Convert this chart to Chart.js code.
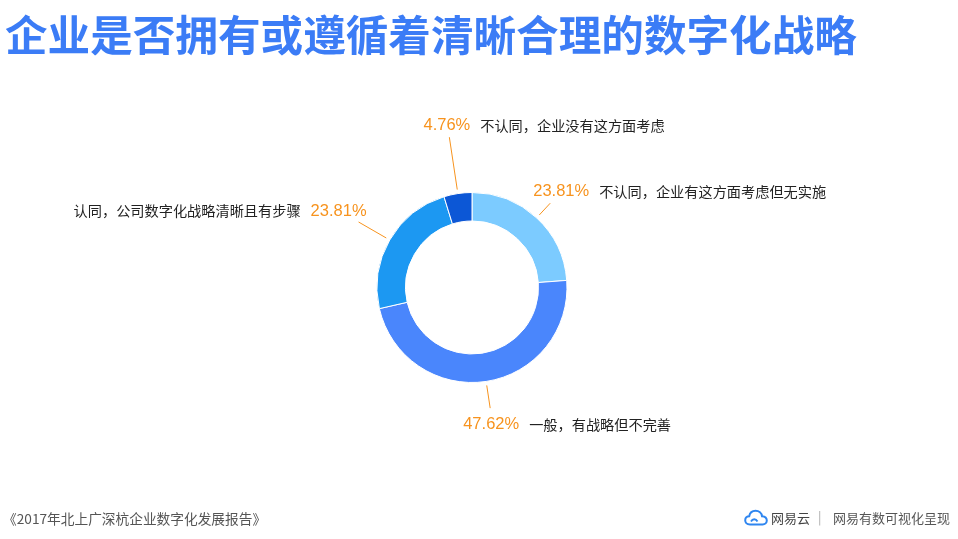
<!DOCTYPE html>
<html>
<head>
<meta charset="utf-8">
<script src="https://cdn.jsdelivr.net/npm/chart.js@4/dist/chart.umd.min.js"></script>
<style>
  html, body { margin:0; padding:0; background:#fff; }
  #wrap { position:relative; width:958px; height:539px; overflow:hidden; background:#fff; }
  #c { position:absolute; left:0; top:0; }
  .title { position:absolute; left:5px; top:11px; font-family:"Noto Sans CJK SC","Noto Sans",sans-serif; font-weight:700; font-size:42.6px; line-height:43px; color:#3b7cf6; white-space:nowrap; }
  .foot { position:absolute; font-family:"Noto Sans CJK SC","Noto Sans",sans-serif; white-space:nowrap; line-height:20px; }
</style>
</head>
<body>
<div id="wrap">
  <canvas id="c" width="958" height="539"></canvas>
  <div class="title">企业是否拥有或遵循着清晰合理的数字化战略</div>
  <div class="foot" style="left:3px; top:508px; font-size:13.7px; color:#555;">《2017年北上广深杭企业数字化发展报告》</div>
  <svg style="position:absolute; left:744px; top:509px;" width="24" height="18" viewBox="0 0 24 18">
    <path d="M6 15.5 C2.5 15.5 1.2 13 1.2 11.2 C1.2 8.8 3 7.2 5.2 7.2 C5.8 4 8.4 1.8 11.6 1.8 C15 1.8 17.6 4.2 18 7.2 C20.8 7.4 22.8 9.2 22.8 11.6 C22.8 13.8 21 15.5 18.6 15.5 Z" fill="none" stroke="#2f86f0" stroke-width="2"/>
    <path d="M7 12.5 C8.5 9.5 12 9.5 13.5 12.5" fill="none" stroke="#2f86f0" stroke-width="1.8"/>
  </svg>
  <div class="foot" style="left:771px; top:508px; font-size:13px; color:#444;">网易云</div>
  <div class="foot" style="left:818px; top:507px; font-size:13px; color:#aaa;">|</div>
  <div class="foot" style="left:833px; top:508px; font-size:13px; color:#555;">网易有数可视化呈现</div>
</div>
<script>
// ---- data ----
const categories = [
  '不认同，企业有这方面考虑但无实施',
  '一般，有战略但不完善',
  '认同，公司数字化战略清晰且有步骤',
  '不认同，企业没有这方面考虑'
];
const percentValues = [23.81, 47.62, 23.81, 4.76];
const sliceColors = ['#7ccbff', '#4a86fc', '#1c98f2', '#0c57d6'];

// ---- label layout (style only) ----
const labelLayout = [
  { len: 20, align: 'left',   dx: -17,  dy: -12, side: 'right' },
  { len: 27, align: 'center', dx: 1,    dy: 16,  side: 'right' },
  { len: 36, align: 'right',  dx: 8,    dy: -11, side: 'left'  },
  { len: 57, align: 'center', dx: -2.5, dy: -12, side: 'right' }
];

const leaderLabels = {
  id: 'leaderLabels',
  afterDatasetsDraw(chart) {
    const ctx = chart.ctx;
    const meta = chart.getDatasetMeta(0);
    const ds = chart.data.datasets[0];
    meta.data.forEach((arc, i) => {
      const p = arc.getProps(['x', 'y', 'startAngle', 'endAngle', 'outerRadius'], true);
      const mid = (p.startAngle + p.endAngle) / 2;
      const cfg = labelLayout[i];
      const c = Math.cos(mid), s = Math.sin(mid);
      const r0 = p.outerRadius + 4;
      const r1 = p.outerRadius + cfg.len;
      const sx = p.x + c * r0, sy = p.y + s * r0;
      const ex = p.x + c * r1, ey = p.y + s * r1;
      ctx.save();
      ctx.strokeStyle = '#f7931e';
      ctx.lineWidth = 1;
      ctx.beginPath();
      ctx.moveTo(sx, sy);
      ctx.lineTo(ex, ey);
      ctx.stroke();

      const pct = ds.data[i].toFixed(2) + '%';
      ctx.font = '16.5px "Liberation Sans", Arial, sans-serif';
      const pw = ctx.measureText(pct).width;
      const ax = ex + cfg.dx;
      const ay = ey + cfg.dy;
      let left;
      if (cfg.align === 'left') left = ax;
      else if (cfg.align === 'right') left = ax - pw;
      else left = ax - pw / 2;
      ctx.textBaseline = 'middle';
      ctx.textAlign = 'left';
      ctx.fillStyle = '#f7931e';
      ctx.fillText(pct, left, ay);

      ctx.font = '14.2px "Noto Sans CJK SC", sans-serif';
      ctx.fillStyle = '#222';
      const label = chart.data.labels[i];
      const lw = ctx.measureText(label).width;
      if (cfg.side === 'right') ctx.fillText(label, left + pw + 10, ay);
      else ctx.fillText(label, left - 10 - lw, ay);
      ctx.restore();
    });
  }
};

new Chart(document.getElementById('c'), {
  type: 'doughnut',
  data: {
    labels: categories,
    datasets: [{
      data: percentValues,
      backgroundColor: sliceColors,
      borderColor: '#ffffff',
      borderWidth: 1,
      hoverOffset: 0
    }]
  },
  options: {
    responsive: false,
    devicePixelRatio: 1,
    animation: false,
    radius: 95,
    cutout: '70%',
    layout: { padding: { left: 377, right: 391, top: 192.5, bottom: 156.5 } },
    plugins: {
      legend: { display: false },
      tooltip: { enabled: false },
      title: { display: false }
    }
  },
  plugins: [leaderLabels]
});
</script>
</body>
</html>
